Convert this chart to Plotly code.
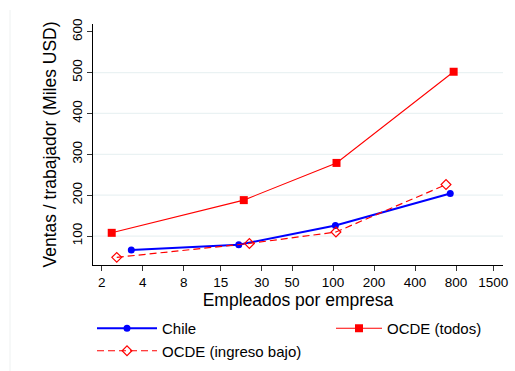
import plotly.graph_objects as go
import math

# Data
chile_x = [3.3, 20.3, 104, 725]
chile_y = [66, 79, 126, 204]
todos_x = [2.37, 22.1, 106, 768]
todos_y = [108, 188, 279, 502]
bajo_x = [2.58, 24.3, 105, 675]
bajo_y = [48, 82, 110, 226]

x_ticks = [2, 4, 8, 15, 30, 50, 100, 200, 400, 800, 1500]
y_ticks = [100, 200, 300, 400, 500, 600]
grid_vals = [100, 200, 300, 400, 500]

FONT = "Liberation Sans, Arial, sans-serif"

# plot-area pixel geometry
L, R, T, B = 93, 503, 24, 265
PW, PH = R - L, B - T


def px_x(p):
    return (p - L) / PW


def px_y(p):
    return (B - p) / PH


fig = go.Figure()
fig.add_trace(go.Scatter(x=chile_x, y=chile_y, name="Chile", mode="lines+markers",
                         line=dict(color="#0000ff", width=2),
                         marker=dict(symbol="circle", size=7, color="#0000ff"),
                         legend="legend"))
fig.add_trace(go.Scatter(x=todos_x, y=todos_y, name="OCDE (todos)", mode="lines+markers",
                         line=dict(color="#ff0000", width=1.1),
                         marker=dict(symbol="square", size=8, color="#ff0000"),
                         legend="legend2"))
fig.add_trace(go.Scatter(x=bajo_x, y=bajo_y, name="OCDE (ingreso bajo)", mode="lines+markers",
                         line=dict(color="#ff0000", width=1.2, dash="7px,4px"),
                         marker=dict(symbol="diamond-open", size=7.5, color="#ff0000",
                                     line=dict(width=1.2, color="#ff0000")),
                         legend="legend"))

for g in grid_vals:
    fig.add_shape(type="line", xref="paper", yref="y", x0=0, x1=1, y0=g, y1=g,
                  line=dict(color="#eaf2f3", width=1.2), layer="below")

# faint outer border line on the left
fig.add_shape(type="line", xref="paper", yref="paper", x0=px_x(10), x1=px_x(10),
              y0=px_y(371), y1=px_y(10),
              line=dict(color="#eef1f1", width=1))

fig.update_layout(
    width=515, height=371,
    margin=dict(l=L, r=515 - R, t=T, b=371 - B, autoexpand=False),
    paper_bgcolor="white", plot_bgcolor="white",
    font=dict(family=FONT, color="#000000", size=13),
    xaxis=dict(type="log", range=[math.log10(1.727), math.log10(1769)],
               tickvals=x_ticks, ticktext=[str(v) for v in x_ticks],
               showgrid=False, zeroline=False, automargin=False,
               showline=True, linecolor="#000000", linewidth=1,
               ticks="outside", ticklen=5, tickcolor="#333333", tickwidth=1,
               tickfont=dict(size=13.5),
               title=dict(text="Empleados por empresa", font=dict(size=17.5), standoff=4)),
    yaxis=dict(range=[29.3, 618.8], tickvals=y_ticks,
               showgrid=False, zeroline=False, automargin=False,
               showline=True, linecolor="#000000", linewidth=1,
               ticks="outside", ticklen=5, tickcolor="#333333", tickwidth=1,
               tickangle=-90, tickfont=dict(size=13.5),
               title=dict(text="Ventas / trabajador (Miles USD)", font=dict(size=17.5), standoff=8)),
    legend=dict(orientation="v", x=px_x(92), xanchor="left",
                y=px_y(312), yanchor="top",
                itemwidth=60, font=dict(size=15), tracegroupgap=0,
                bgcolor="rgba(0,0,0,0)"),
    legend2=dict(orientation="v", x=px_x(331), xanchor="left",
                 y=px_y(312), yanchor="top",
                 itemwidth=46, font=dict(size=15),
                 bgcolor="rgba(0,0,0,0)"),
    showlegend=True,
)

fig.write_html("out.html")
